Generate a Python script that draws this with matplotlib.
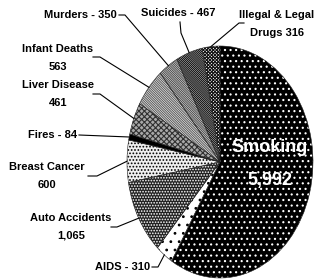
import matplotlib
matplotlib.use('Agg')
import matplotlib.pyplot as plt
import numpy as np

plt.rcParams['font.family'] = ['Liberation Sans', 'DejaVu Sans']
plt.rcParams['hatch.linewidth'] = 0.8

BS = chr(92)  # backslash hatch

# data, clockwise from 12 o'clock
causes = ['Smoking', 'AIDS', 'Auto Accidents', 'Breast Cancer', 'Fires',
          'Liver Disease', 'Infant Deaths', 'Murders', 'Suicides',
          'Illegal & Legal Drugs']
deaths = [5992, 310, 1065, 600, 84, 461, 563, 350, 467, 316]
label_texts = ['Smoking\n5,992', 'AIDS - 310', 'Auto Accidents\n1,065',
               'Breast Cancer\n600', 'Fires - 84', 'Liver Disease\n461',
               'Infant Deaths\n563', 'Murders - 350', 'Suicides - 467',
               'Illegal & Legal\nDrugs 316']

faces = ['black', 'white', '#202020', '#f0f0f0', 'black',
         '#a8a8a8', 'white', 'white', 'white', 'white']
hatch_colors = ['white', 'black', 'white', 'black', 'black',
                '#303030', '#606060', '#505050', '#111111', '#111111']
hatches = ['...', '..', '......', '.....', '',
           'xxxxxx', BS * 14, BS * 15, BS * 16, 'x' * 10]

# pixel layout of the picture (pie is squashed into an ellipse)
W, H = 321, 279
CX, CY, RX, RY = 220, 162, 93, 116


def px(x, y):
    return (x - CX) / RX, (CY - y) / RY


fig = plt.figure(figsize=(W / 100, H / 100), dpi=100)
ax = fig.add_axes([0, 0, 1, 1])

wedges, _ = ax.pie(deaths, startangle=90, counterclock=False, radius=1,
                   wedgeprops=dict(linewidth=0))
for w, fc, hc, h in zip(wedges, faces, hatch_colors, hatches):
    w.set_facecolor(fc)
    w.set_edgecolor(hc)
    w.set_hatch(h)
    w.set_linewidth(0)

# thin outline
ax.pie(deaths, startangle=90, counterclock=False, radius=1,
       wedgeprops=dict(fill=False, edgecolor='#222222', linewidth=0.4))

# label placement: text position, alignment, leader knee points (pixels)
layout = {
    'AIDS': ((150, 267), 'right', [(152, 267), (158, 267)]),
    'Auto Accidents': ((71, 227), 'center', [(111, 227), (117, 227)]),
    'Breast Cancer': ((47, 176), 'center', [(88, 176), (97, 176)]),
    'Fires': ((77, 135), 'right', [(79, 135)]),
    'Liver Disease': ((58, 94), 'center', [(93, 94), (100, 94)]),
    'Infant Deaths': ((58, 58), 'center', [(93, 57), (100, 57)]),
    'Murders': ((117, 15), 'right', [(119, 15), (125, 15)]),
    'Suicides': ((178, 13), 'center', [(180, 22), (181, 33)]),
    'Illegal & Legal Drugs': ((277, 24), 'center', [(244, 23), (239, 23)]),
}

for w, name, txt in zip(wedges, causes, label_texts):
    if name not in layout:
        continue
    (tx, ty), ha, knees = layout[name]
    ax.text(*px(tx, ty), txt, ha=ha, va='center', fontsize=8,
            fontweight='bold', linespacing=2.0, multialignment='center')
    mid = np.deg2rad((w.theta1 + w.theta2) / 2)
    pts = [px(x, y) for x, y in knees] + [(np.cos(mid), np.sin(mid))]
    xs, ys = zip(*pts)
    ax.plot(xs, ys, color='black', lw=0.8)

ax.text(*px(270, 164), label_texts[0], ha='center', va='center',
        fontsize=13, fontweight='bold', color='white', linespacing=2.2)

ax.set_xlim((0 - CX) / RX, (W - CX) / RX)
ax.set_ylim((CY - H) / RY, CY / RY)
ax.set_aspect('auto')
ax.axis('off')

fig.savefig('out.png', dpi=100, facecolor='white')
plt.close(fig)
